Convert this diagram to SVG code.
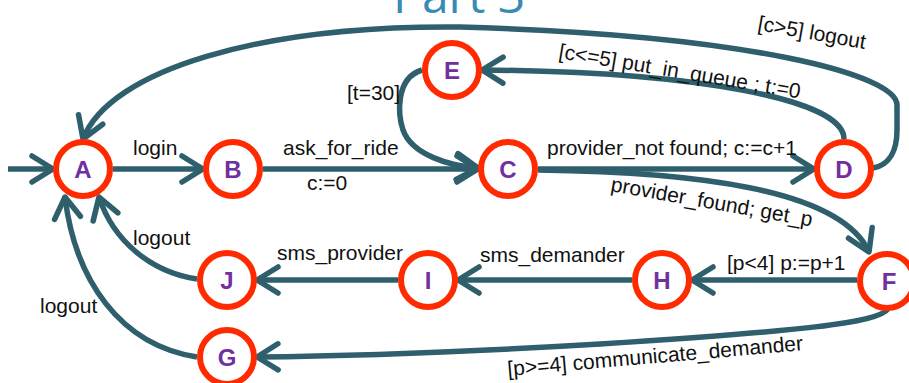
<svg xmlns="http://www.w3.org/2000/svg" width="909" height="383" viewBox="0 0 909 383">
<style>
.edge{fill:none;stroke:#2f5f6d;stroke-width:5.5;stroke-linecap:butt;stroke-linejoin:round}
.arrow{marker-end:url(#arr)}
.node circle{fill:#fff;stroke:#ff2a00;stroke-width:6}
.node text{font-family:"Liberation Sans",Arial,sans-serif;font-weight:bold;font-size:24px;fill:#7030a0;text-anchor:middle}
.lbl{font-family:"Liberation Sans",Arial,sans-serif;font-size:21px;fill:#111}
.title{font-family:"Open Sans",sans-serif;font-size:48px;fill:#3a8bb3}
</style>
<defs>
<marker id="arr" markerUnits="userSpaceOnUse" viewBox="-30 -20 40 40" markerWidth="40" markerHeight="40" refX="0" refY="0" orient="auto" overflow="visible">
<path d="M-21,-13 L0,0 L-21,13" fill="none" stroke="#2f5f6d" stroke-width="5.5" stroke-linecap="round" stroke-linejoin="round"/>
</marker>
</defs>
<rect width="909" height="383" fill="#fff"/>
<text class="title" x="393" y="13">Part 3</text>
<g id="connectors">
<path class="edge arrow" d="M8,169 L53,169"/>
<path class="edge arrow" d="M113,169 L203,169"/>
<path class="edge arrow" d="M263,169 L478,169"/>
<path class="edge arrow" d="M538,169 L814,169"/>
<path class="edge arrow" d="M538,170 C690,172 840,188 869,252"/>
<path class="edge arrow" d="M844,139 C844,100 700,72 482,70"/>
<path class="edge arrow" d="M873,168 C890,165 897,150 897,130 L897,105 C897,75 750,35 460,27 C260,25 110,70 83,139"/>
<path class="edge arrow" d="M422,70 C395,78 398,115 403,130 C412,155 450,166 478,168"/>
<path class="edge arrow" d="M857,280 L692,280"/>
<path class="edge arrow" d="M632,280 L458,280"/>
<path class="edge arrow" d="M398,280 L257,280"/>
<path class="edge arrow" d="M197,279 C150,272 113,240 99,197"/>
<path class="edge arrow" d="M197,357 C120,345 75,280 65,197"/>
<path class="edge arrow" d="M888,309 C878,323 800,331 600,344 C450,353 350,356 257,357"/>
<text class="lbl" x="133" y="155">login</text>
<text class="lbl" x="283" y="155">ask_for_ride</text>
<text class="lbl" x="307" y="190">c:=0</text>
<text class="lbl" x="347" y="100">[t=30]</text>
<text class="lbl" x="547" y="155">provider_not found; c:=c+1</text>
<text class="lbl" transform="translate(610,191) rotate(10)">provider_found; get_p</text>
<text class="lbl" transform="translate(558,58) rotate(9.5)">[c&lt;=5] put_in_queue ; t:=0</text>
<text class="lbl" transform="translate(757,30) rotate(10)">[c&gt;5] logout</text>
<text class="lbl" x="727" y="270">[p&lt;4] p:=p+1</text>
<text class="lbl" x="480" y="262">sms_demander</text>
<text class="lbl" x="277" y="260">sms_provider</text>
<text class="lbl" x="133" y="245">logout</text>
<text class="lbl" x="40" y="313">logout</text>
<text class="lbl" transform="translate(508,376) rotate(-5)">[p&gt;=4] communicate_demander</text>
</g>
<g id="node-A" class="node"><circle cx="83" cy="169" r="27"/><text x="83" y="178">A</text></g>
<g id="node-B" class="node"><circle cx="233" cy="169" r="27"/><text x="233" y="178">B</text></g>
<g id="node-C" class="node"><circle cx="508" cy="169" r="27"/><text x="508" y="178">C</text></g>
<g id="node-D" class="node"><circle cx="844" cy="169" r="27"/><text x="844" y="178">D</text></g>
<g id="node-E" class="node"><circle cx="452" cy="70" r="27"/><text x="452" y="79">E</text></g>
<g id="node-F" class="node"><circle cx="887" cy="281" r="27"/><text x="889" y="290">F</text></g>
<g id="node-H" class="node"><circle cx="662" cy="280" r="27"/><text x="662" y="289">H</text></g>
<g id="node-I" class="node"><circle cx="428" cy="280" r="27"/><text x="428" y="289">I</text></g>
<g id="node-J" class="node"><circle cx="227" cy="280" r="27"/><text x="227" y="289">J</text></g>
<g id="node-G" class="node"><circle cx="227" cy="357" r="27"/><text x="227" y="366">G</text></g>
</svg>
